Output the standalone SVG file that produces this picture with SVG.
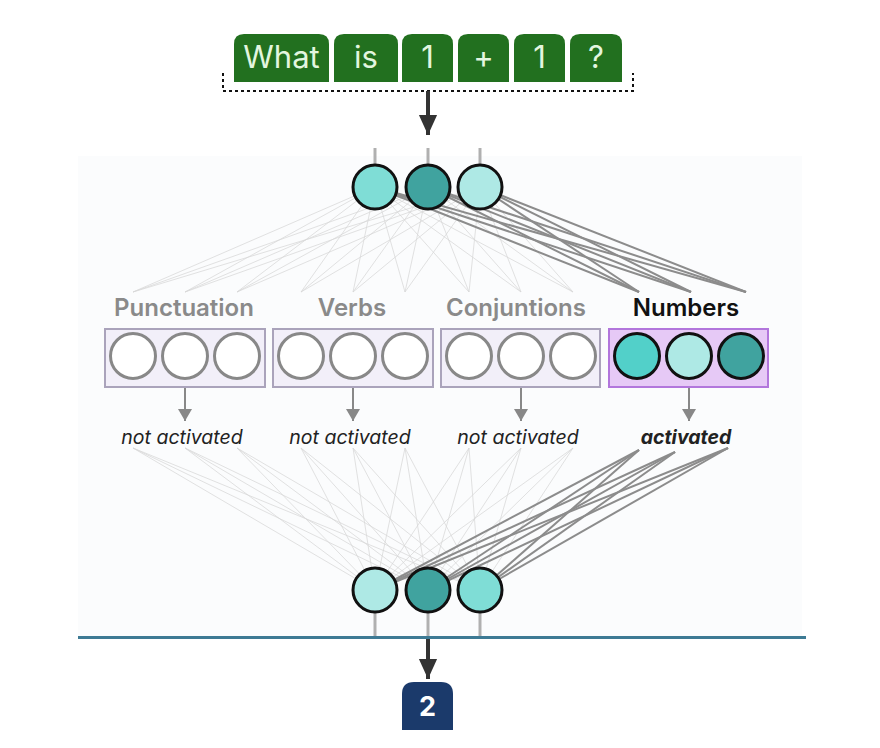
<svg xmlns="http://www.w3.org/2000/svg" width="880" height="748" viewBox="0 0 880 748">
<defs>
<style>
.tok{fill:#22701f}
.tokt{font-family:Inter,"Liberation Sans",sans-serif;font-size:31px;fill:#e3f6df;text-anchor:middle}
.grp{font-family:Inter,"Liberation Sans",sans-serif;font-size:24px;font-weight:600;fill:#8a8a8a;text-anchor:middle}
.grp.on{fill:#111}
.st{font-family:Inter,"Liberation Sans",sans-serif;font-size:19.5px;font-style:italic;fill:#222;text-anchor:middle}
.st.on{font-weight:700}
.box{fill:#f2eff9;stroke:#aaa3bb;stroke-width:2}
.box.on{fill:#e6c9f6;stroke:#b276dc}
.off{fill:#fff;stroke:#888;stroke-width:3}
.neu{stroke:#111;stroke-width:3}
.lo{stroke:#d8d8d8;stroke-width:1;opacity:0.75}
.hi{stroke:#8c8c8c;stroke-width:2}
.stem{stroke:#b0b0b0;stroke-width:3}
.garr{stroke:#888;stroke-width:2}
</style>
<marker id="big" viewBox="0 0 22 20" refX="22" refY="10" markerWidth="20" markerHeight="22" markerUnits="userSpaceOnUse" orient="auto"><path d="M0,0 L22,10 L0,20 Z" fill="#333"/></marker>
<marker id="gray" viewBox="0 0 12 14" refX="12" refY="7" markerWidth="12" markerHeight="14" markerUnits="userSpaceOnUse" orient="auto"><path d="M0,0 L12,7 L0,14 Z" fill="#888"/></marker>
</defs>
<rect width="880" height="748" fill="#fff"/>
<rect id="panel" x="78" y="156" width="724" height="481" fill="#fbfcfd"/>

<g id="tokens">
<g id="tok-what"><path class="tok" d="M234,82 V44 Q234,34 244,34 H319 Q329,34 329,44 V82 Z"/><text class="tokt" x="281.5" y="68">What</text></g>
<g id="tok-is"><path class="tok" d="M334,82 V44 Q334,34 344,34 H388 Q398,34 398,44 V82 Z"/><text class="tokt" x="366" y="68">is</text></g>
<g id="tok-1a"><path class="tok" d="M402,82 V44 Q402,34 412,34 H443 Q453,34 453,44 V82 Z"/><text class="tokt" x="427.5" y="68">1</text></g>
<g id="tok-plus"><path class="tok" d="M458,82 V44 Q458,34 468,34 H499 Q509,34 509,44 V82 Z"/><text class="tokt" x="483.5" y="68">+</text></g>
<g id="tok-1b"><path class="tok" d="M514,82 V44 Q514,34 524,34 H555 Q565,34 565,44 V82 Z"/><text class="tokt" x="539.5" y="68">1</text></g>
<g id="tok-q"><path class="tok" d="M570,82 V44 Q570,34 580,34 H612 Q622,34 622,44 V82 Z"/><text class="tokt" x="596" y="68">?</text></g>
<path id="bracket" d="M223,73 V91 H633 V73" fill="none" stroke="#111" stroke-width="2" stroke-dasharray="3 3"/>
</g>

<g id="connectors">
<line x1="428" y1="91" x2="428" y2="135" stroke="#333" stroke-width="4" marker-end="url(#big)"/>
<g id="top-lo">
<line class="lo" x1="375" y1="187" x2="133" y2="292"/><line class="lo" x1="428" y1="187" x2="133" y2="292"/><line class="lo" x1="480" y1="187" x2="133" y2="292"/>
<line class="lo" x1="375" y1="187" x2="185" y2="292"/><line class="lo" x1="428" y1="187" x2="185" y2="292"/><line class="lo" x1="480" y1="187" x2="185" y2="292"/>
<line class="lo" x1="375" y1="187" x2="237" y2="292"/><line class="lo" x1="428" y1="187" x2="237" y2="292"/><line class="lo" x1="480" y1="187" x2="237" y2="292"/>
<line class="lo" x1="375" y1="187" x2="301" y2="292"/><line class="lo" x1="428" y1="187" x2="301" y2="292"/><line class="lo" x1="480" y1="187" x2="301" y2="292"/>
<line class="lo" x1="375" y1="187" x2="353" y2="292"/><line class="lo" x1="428" y1="187" x2="353" y2="292"/><line class="lo" x1="480" y1="187" x2="353" y2="292"/>
<line class="lo" x1="375" y1="187" x2="405" y2="292"/><line class="lo" x1="428" y1="187" x2="405" y2="292"/><line class="lo" x1="480" y1="187" x2="405" y2="292"/>
<line class="lo" x1="375" y1="187" x2="469" y2="292"/><line class="lo" x1="428" y1="187" x2="469" y2="292"/><line class="lo" x1="480" y1="187" x2="469" y2="292"/>
<line class="lo" x1="375" y1="187" x2="521" y2="292"/><line class="lo" x1="428" y1="187" x2="521" y2="292"/><line class="lo" x1="480" y1="187" x2="521" y2="292"/>
<line class="lo" x1="375" y1="187" x2="573" y2="292"/><line class="lo" x1="428" y1="187" x2="573" y2="292"/><line class="lo" x1="480" y1="187" x2="573" y2="292"/>
</g>
<g id="top-hi">
<line class="hi" x1="375" y1="187" x2="639" y2="292"/><line class="hi" x1="428" y1="187" x2="639" y2="292"/><line class="hi" x1="480" y1="187" x2="639" y2="292"/>
<line class="hi" x1="375" y1="187" x2="691" y2="292"/><line class="hi" x1="428" y1="187" x2="691" y2="292"/><line class="hi" x1="480" y1="187" x2="691" y2="292"/>
<line class="hi" x1="375" y1="187" x2="746" y2="292"/><line class="hi" x1="428" y1="187" x2="746" y2="292"/><line class="hi" x1="480" y1="187" x2="746" y2="292"/>
</g>
<g id="bot-lo">
<line class="lo" x1="133" y1="448" x2="375" y2="590"/><line class="lo" x1="133" y1="448" x2="428" y2="590"/><line class="lo" x1="133" y1="448" x2="480" y2="590"/>
<line class="lo" x1="185" y1="448" x2="375" y2="590"/><line class="lo" x1="185" y1="448" x2="428" y2="590"/><line class="lo" x1="185" y1="448" x2="480" y2="590"/>
<line class="lo" x1="237" y1="448" x2="375" y2="590"/><line class="lo" x1="237" y1="448" x2="428" y2="590"/><line class="lo" x1="237" y1="448" x2="480" y2="590"/>
<line class="lo" x1="301" y1="448" x2="375" y2="590"/><line class="lo" x1="301" y1="448" x2="428" y2="590"/><line class="lo" x1="301" y1="448" x2="480" y2="590"/>
<line class="lo" x1="353" y1="448" x2="375" y2="590"/><line class="lo" x1="353" y1="448" x2="428" y2="590"/><line class="lo" x1="353" y1="448" x2="480" y2="590"/>
<line class="lo" x1="405" y1="448" x2="375" y2="590"/><line class="lo" x1="405" y1="448" x2="428" y2="590"/><line class="lo" x1="405" y1="448" x2="480" y2="590"/>
<line class="lo" x1="469" y1="448" x2="375" y2="590"/><line class="lo" x1="469" y1="448" x2="428" y2="590"/><line class="lo" x1="469" y1="448" x2="480" y2="590"/>
<line class="lo" x1="521" y1="448" x2="375" y2="590"/><line class="lo" x1="521" y1="448" x2="428" y2="590"/><line class="lo" x1="521" y1="448" x2="480" y2="590"/>
<line class="lo" x1="573" y1="448" x2="375" y2="590"/><line class="lo" x1="573" y1="448" x2="428" y2="590"/><line class="lo" x1="573" y1="448" x2="480" y2="590"/>
</g>
<g id="bot-hi">
<line class="hi" x1="639" y1="450" x2="375" y2="590"/><line class="hi" x1="639" y1="450" x2="428" y2="590"/><line class="hi" x1="639" y1="450" x2="480" y2="590"/>
<line class="hi" x1="675" y1="452" x2="375" y2="590"/><line class="hi" x1="675" y1="452" x2="428" y2="590"/><line class="hi" x1="675" y1="452" x2="480" y2="590"/>
<line class="hi" x1="728" y1="448" x2="375" y2="590"/><line class="hi" x1="728" y1="448" x2="428" y2="590"/><line class="hi" x1="728" y1="448" x2="480" y2="590"/>
</g>
<g id="stems">
<line class="stem" x1="375" y1="148" x2="375" y2="170"/><line class="stem" x1="428" y1="148" x2="428" y2="170"/><line class="stem" x1="480" y1="148" x2="480" y2="170"/>
<line class="stem" x1="375" y1="605" x2="375" y2="636"/><line class="stem" x1="428" y1="605" x2="428" y2="636"/><line class="stem" x1="480" y1="605" x2="480" y2="636"/>
</g>
<g id="group-arrows">
<line class="garr" x1="185" y1="387" x2="185" y2="421" marker-end="url(#gray)"/>
<line class="garr" x1="353" y1="387" x2="353" y2="421" marker-end="url(#gray)"/>
<line class="garr" x1="521" y1="387" x2="521" y2="421" marker-end="url(#gray)"/>
<line class="garr" x1="689" y1="387" x2="689" y2="421" marker-end="url(#gray)"/>
</g>
<line x1="428" y1="639" x2="428" y2="679" stroke="#333" stroke-width="4" marker-end="url(#big)"/>
</g>

<g id="input-neurons">
<circle class="neu" cx="375" cy="187" r="22" fill="#7fddd6"/>
<circle class="neu" cx="428" cy="187" r="22" fill="#40a39f"/>
<circle class="neu" cx="480" cy="187" r="22" fill="#aee9e5"/>
</g>

<g id="group-punctuation">
<text class="grp" x="184" y="316">Punctuation</text>
<rect class="box" x="105" y="329" width="160" height="58"/>
<circle class="off" cx="133" cy="356" r="22.5"/><circle class="off" cx="185" cy="356" r="22.5"/><circle class="off" cx="237" cy="356" r="22.5"/>
<text class="st" x="182" y="444">not activated</text>
</g>
<g id="group-verbs">
<text class="grp" x="352" y="316">Verbs</text>
<rect class="box" x="273" y="329" width="160" height="58"/>
<circle class="off" cx="301" cy="356" r="22.5"/><circle class="off" cx="353" cy="356" r="22.5"/><circle class="off" cx="405" cy="356" r="22.5"/>
<text class="st" x="350" y="444">not activated</text>
</g>
<g id="group-conjuntions">
<text class="grp" x="516" y="316">Conjuntions</text>
<rect class="box" x="441" y="329" width="159" height="58"/>
<circle class="off" cx="469" cy="356" r="22.5"/><circle class="off" cx="521" cy="356" r="22.5"/><circle class="off" cx="573" cy="356" r="22.5"/>
<text class="st" x="518" y="444">not activated</text>
</g>
<g id="group-numbers">
<text class="grp on" x="686" y="316">Numbers</text>
<rect class="box on" x="609" y="329" width="159" height="58"/>
<circle class="neu" cx="637" cy="356" r="22.5" fill="#52d0c9"/><circle class="neu" cx="689" cy="356" r="22.5" fill="#aee9e5"/><circle class="neu" cx="741" cy="356" r="22.5" fill="#40a39f"/>
<text class="st on" x="686" y="444">activated</text>
</g>

<g id="output-neurons">
<circle class="neu" cx="375" cy="590" r="22" fill="#aee9e5"/>
<circle class="neu" cx="428" cy="590" r="22" fill="#40a39f"/>
<circle class="neu" cx="480" cy="590" r="22" fill="#7fddd6"/>
</g>

<line id="baseline" x1="78" y1="637.5" x2="806" y2="637.5" stroke="#3d7a94" stroke-width="3"/>

<g id="output">
<path d="M402,730 V694 Q402,682 414,682 H441 Q453,682 453,694 V730 Z" fill="#1b3a6b"/>
<text x="427.5" y="716" font-family="Inter,'Liberation Sans',sans-serif" font-size="27" font-weight="700" fill="#fff" text-anchor="middle">2</text>
</g>
</svg>
